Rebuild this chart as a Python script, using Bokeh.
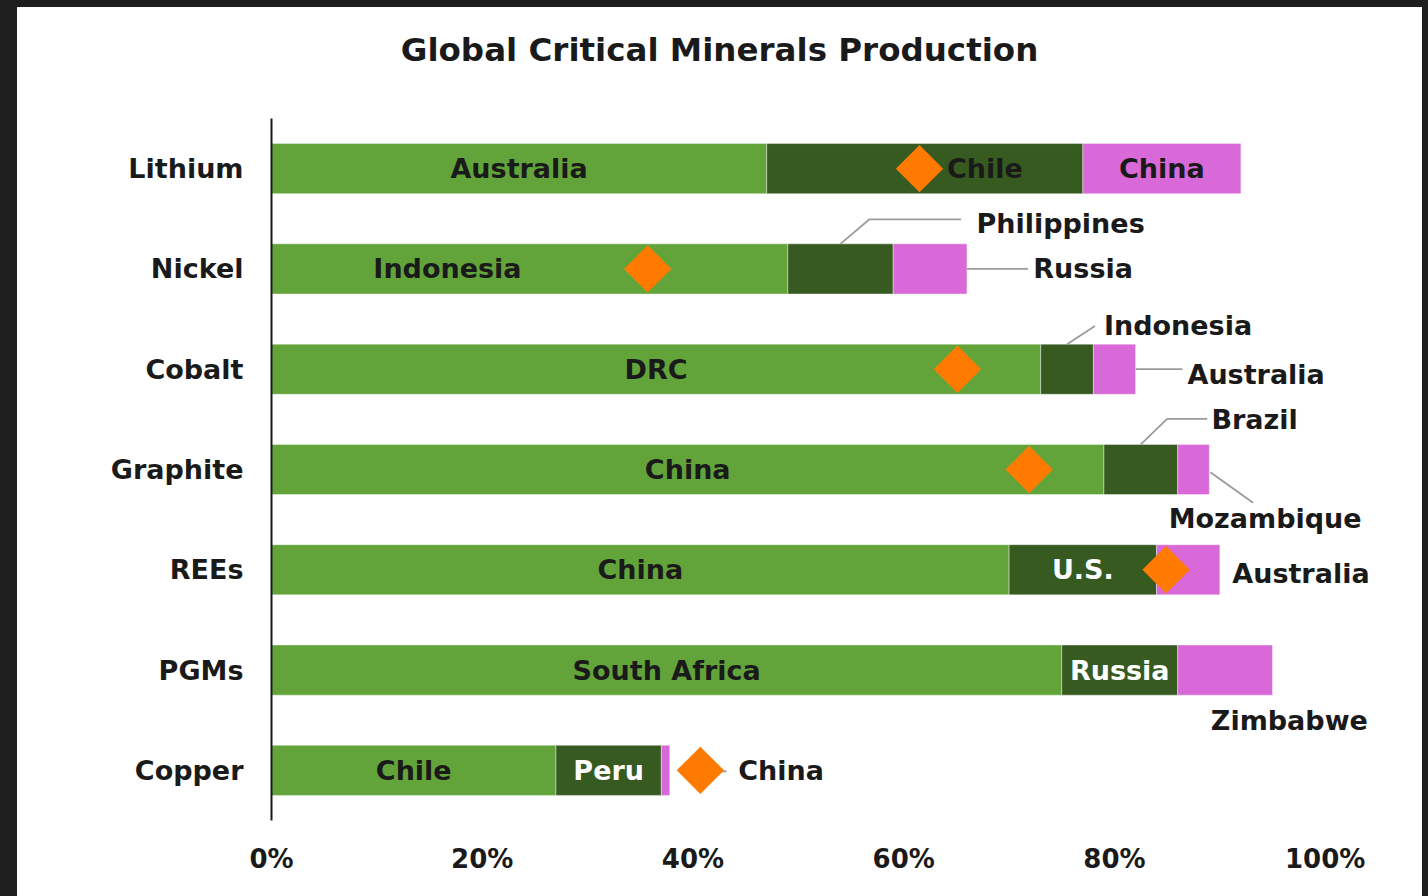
import math
from bokeh.plotting import figure
from bokeh.models import Range1d, FixedTicker, NumeralTickFormatter, ColumnDataSource
from bokeh.core.properties import value
from bokeh.embed import file_html
from bokeh.resources import INLINE

# ---------------- data ----------------
title = "Global Critical Minerals Production"
minerals = ["Lithium", "Nickel", "Cobalt", "Graphite", "REEs", "PGMs", "Copper"]
first_country = ["Australia", "Indonesia", "DRC", "China", "China", "South Africa", "Chile"]
first_share = [47, 49, 73, 79, 70, 75, 27]
second_country = ["Chile", "Philippines", "Indonesia", "Brazil", "U.S.", "Russia", "Peru"]
second_share = [30, 10, 5, 7, 14, 11, 10]
third_country = ["China", "Russia", "Australia", "Mozambique", "Australia", "Zimbabwe", "China"]
third_share = [15, 7, 4, 3, 6, 9, 0.8]
marker_share = [61.5, 35.7, 65.1, 71.9, 84.9, float("nan"), 40.7]
tick_values = [0, 0.2, 0.4, 0.6, 0.8, 1.0]

# ---------------- style / layout ----------------
FONT = "DejaVu Sans"
INK = "#1a1a1a"
WHITE = "#ffffff"
COLORS = ["#62a43a", "#365a20", "#d968d8"]
ORANGE = "#ff7a00"
LEADER = "#9b9b9b"
PAGE_BG = "#1e1e1e"

FIG_W, FIG_H = 1405, 889
MB_L, MB_R, MB_B = 254, 12, 76
ROWS_TOP_PX = 111          # distance from figure top to the first row band
TITLE_PX = 42              # title centre, from figure top
TITLE_CX_PX = 702          # title centre, from figure left
PX_PER_UNIT = 1053.7
n = len(minerals)
frame_w = FIG_W - MB_L - MB_R
frame_h = FIG_H - MB_B
px_per_row = (frame_h - ROWS_TOP_PX) / n
x_end = frame_w / PX_PER_UNIT
y_end = n - 0.5 + ROWS_TOP_PX / px_per_row
title_y = y_end - TITLE_PX / px_per_row
title_x = (TITLE_CX_PX - MB_L) / PX_PER_UNIT

# label placements: (row, tier) -> anchor, optional leader points (dx %, dy rows), text (dx %, dy rows, align)
label_layout = {
    (0, 1): dict(anchor="mid", text=(5.7, 0.0, "center")),
    (1, 0): dict(anchor="mid", text=(-7.8, 0.0, "center")),
    (1, 1): dict(anchor="mid", leader=[(0, 0.25), (2.75, 0.495), (11.45, 0.495)], text=(12.9, 0.455, "left")),
    (1, 2): dict(anchor="end", leader=[(0, 0.0), (5.8, 0.0)], text=(6.3, 0.0, "left")),
    (2, 1): dict(anchor="mid", leader=[(0, 0.25), (2.65, 0.43)], text=(3.5, 0.435, "left")),
    (2, 2): dict(anchor="end", leader=[(0, 0.0), (4.45, 0.0)], text=(4.93, -0.05, "left")),
    (3, 1): dict(anchor="mid", leader=[(0, 0.25), (2.5, 0.505), (6.3, 0.505)], text=(6.7, 0.5, "left")),
    (3, 2): dict(anchor="end", leader=[(0.1, -0.027), (4.15, -0.332)], text=(5.3, -0.49, "center")),
    (4, 2): dict(anchor="end", text=(1.18, -0.034, "left")),
    (5, 2): dict(anchor="end", text=(1.6, -0.503, "center")),
    (6, 2): dict(anchor="end", leader=[(2.9, -0.01), (5.4, -0.01)], text=(6.5, 0.0, "left")),
}

ypos = [n - 1 - i for i in range(n)]

p = figure(
    width=FIG_W, height=FIG_H, title=None, tools="",
    x_range=Range1d(0, x_end), y_range=Range1d(-0.5, y_end),
    output_backend="svg", toolbar_location=None,
    min_border_left=MB_L, min_border_right=MB_R, min_border_top=0, min_border_bottom=MB_B,
    margin=(7, 0, 0, 17),
)
p.styles = {"background-color": WHITE}
p.background_fill_color = WHITE
p.border_fill_color = WHITE
p.outline_line_color = None
p.xgrid.visible = False
p.ygrid.visible = False

# axes
xa = p.xaxis[0]
xa.ticker = FixedTicker(ticks=tick_values)
xa.formatter = NumeralTickFormatter(format="0%")
xa.axis_line_color = None
xa.major_tick_out = 0
xa.major_tick_in = 0
xa.minor_tick_out = 0
xa.minor_tick_in = 0
xa.major_label_standoff = 23
xa.major_label_text_font = FONT
xa.major_label_text_font_style = "bold"
xa.major_label_text_font_size = "26px"
xa.major_label_text_color = INK

ya = p.yaxis[0]
ya.ticker = FixedTicker(ticks=ypos)
ya.bounds = (-0.5, n - 0.5)
ya.major_label_overrides = {y: m for y, m in zip(ypos, minerals)}
ya.axis_line_color = INK
ya.axis_line_width = 2
ya.major_tick_out = 0
ya.major_tick_in = 0
ya.minor_tick_out = 0
ya.minor_tick_in = 0
ya.major_label_standoff = 28
ya.major_label_text_font = FONT
ya.major_label_text_font_style = "bold"
ya.major_label_text_font_size = "27px"
ya.major_label_text_color = INK

# bars
tiers = [(first_country, first_share), (second_country, second_share), (third_country, third_share)]
left = [0.0] * n
seg = {}
for t, (names, shares) in enumerate(tiers):
    lft = [l / 100 for l in left]
    rgt = [(l + s) / 100 for l, s in zip(left, shares)]
    src = ColumnDataSource(dict(y=ypos, left=lft, right=rgt, name=names))
    p.hbar(y="y", left="left", right="right", height=0.5, source=src,
           fill_color=COLORS[t], line_color=WHITE, line_alpha=0.4, line_width=1)
    for i in range(n):
        seg[(i, t)] = (left[i], left[i] + shares[i])
    left = [l + s for l, s in zip(left, shares)]

# labels & leaders
lx, ly, lt, la, lc = [], [], [], [], []
leader_xs, leader_ys = [], []
for t, (names, shares) in enumerate(tiers):
    for i in range(n):
        s0, s1 = seg[(i, t)]
        spec = label_layout.get((i, t))
        if spec is None:
            ax = (s0 + s1) / 2
            dx, dy, al = 0.0, 0.0, "center"
            color = WHITE if t == 1 else INK
        else:
            ax = (s0 + s1) / 2 if spec["anchor"] == "mid" else s1
            dx, dy, al = spec["text"]
            color = INK
            if "leader" in spec:
                leader_xs.append([(ax + px) / 100 for px, _ in spec["leader"]])
                leader_ys.append([ypos[i] + py for _, py in spec["leader"]])
        lx.append((ax + dx) / 100)
        ly.append(ypos[i] + dy)
        lt.append(names[i])
        la.append(al)
        lc.append(color)

p.multi_line(xs=leader_xs, ys=leader_ys, line_color=LEADER, line_width=1.8)

msrc = ColumnDataSource(dict(
    x=[m / 100 for m, y in zip(marker_share, ypos) if not math.isnan(m)],
    y=[y for m, y in zip(marker_share, ypos) if not math.isnan(m)],
))
p.scatter(x="x", y="y", source=msrc, marker="square", size=33.5, angle=math.pi / 4,
          fill_color=ORANGE, line_color=None)

tsrc = ColumnDataSource(dict(x=lx, y=ly, text=lt, align=la, color=lc))
p.text(x="x", y="y", text="text", source=tsrc, text_align="align", text_baseline="middle",
       text_color="color", text_font=value(FONT), text_font_style="bold", text_font_size="27px")

# chart title
p.text(x=[title_x], y=[title_y], text=[title], text_align="center", text_baseline="middle",
       text_color=INK, text_font=value(FONT), text_font_style="bold", text_font_size="32.5px")

TEMPLATE = """
{% block postamble %}
<style>html, body { background: """ + PAGE_BG + """; }</style>
{% endblock %}
"""

open("out.html", "w").write(file_html(p, INLINE, template=TEMPLATE))
